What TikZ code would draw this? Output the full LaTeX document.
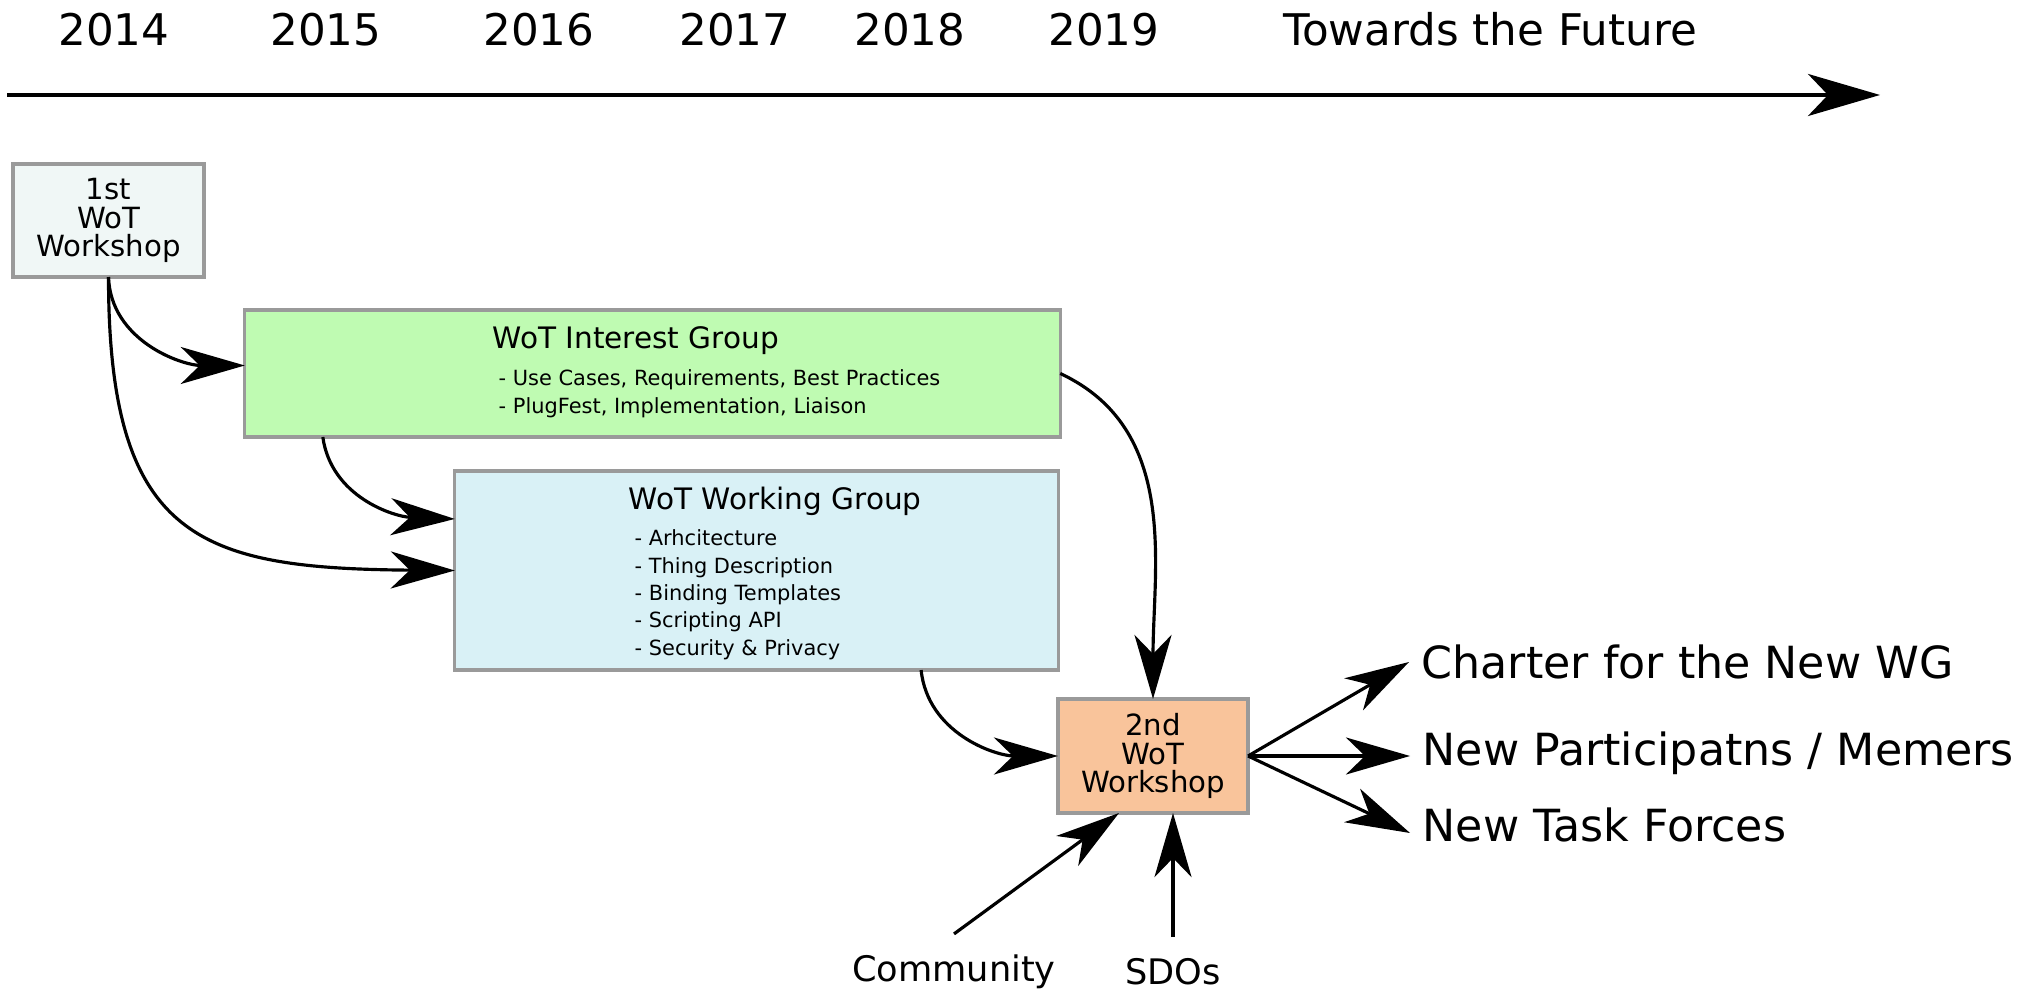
\documentclass[tikz,border=0pt]{standalone}
\usepackage{fontspec}
\setmainfont{DejaVu Sans}
\usetikzlibrary{arrows.meta}
\definecolor{wsonefill}{RGB}{240,247,246}
\definecolor{igfill}{RGB}{191,251,178}
\definecolor{wgfill}{RGB}{217,241,246}
\definecolor{wstwofill}{RGB}{249,196,155}
\definecolor{boxline}{RGB}{154,154,154}
\tikzstyle{box} = [rectangle, draw=boxline, line width=0.9pt,
                   inner sep=0pt, outer sep=0pt]
\tikzstyle{workshop} = [box, align=center,
                        font=\fontsize{8.3}{8.2}\selectfont]
\tikzstyle{title} = [anchor=west, inner sep=0pt,
                     font=\fontsize{8.4}{10}\selectfont]
\tikzstyle{items} = [anchor=north west, inner sep=0pt, align=left,
                     font=\fontsize{5.95}{7.8}\selectfont]
\tikzstyle{year} = [inner sep=0pt, text depth=0pt,
                    font=\fontsize{12.4}{14}\selectfont]
\tikzstyle{result} = [anchor=west, inner xsep=0.12cm, inner ysep=0pt,
                      text depth=0pt, font=\fontsize{12.6}{15}\selectfont]
\tikzstyle{source} = [inner xsep=0pt, inner ysep=0.2cm, text depth=0pt,
                      font=\fontsize{10}{12}\selectfont]
\tikzstyle{arrow} = [line width=0.9pt,
                     -{Stealth[length=0.64cm, width=0.37cm, inset=0.19cm]}]
\tikzstyle{timeline} = [line width=1.1pt,
                        -{Stealth[length=0.72cm, width=0.42cm, inset=0.2cm]}]

\begin{document}
\begin{tikzpicture}[x=0.01cm, y=-0.01cm]
        \useasboundingbox (0,0) rectangle (2040,989);

        % years
        \node (Year2014) [year] at (114,29) {2014};
        \node (Year2015) [year] at (326,29) {2015};
        \node (Year2016) [year] at (539,29) {2016};
        \node (Year2017) [year] at (735,29) {2017};
        \node (Year2018) [year] at (910,29) {2018};
        \node (Year2019) [year] at (1104,29) {2019};
        \node (Future) [year] at (1490,29) {Towards the Future};

        \coordinate (TimeStart) at (7,95);
        \coordinate (TimeEnd) at (1880,95);
        \draw [timeline] (TimeStart) -- (TimeEnd);

        % boxes
        \node (Workshop1) [workshop, fill=wsonefill, minimum width=1.91cm,
              minimum height=1.13cm] at (108.5,220.5) {1st\\WoT\\Workshop};

        \node (InterestGroup) [box, fill=igfill, minimum width=8.15cm,
              minimum height=1.27cm] at (652.5,373.5) {};
        \node (IGTitle) [title] at (492,341) {WoT Interest Group};
        \node (IGItems) [items] at (498,369)
              {- Use Cases, Requirements, Best Practices\\
               - PlugFest, Implementation, Liaison};

        \node (WorkingGroup) [box, fill=wgfill, minimum width=6.03cm,
              minimum height=1.99cm] at (756.5,570.5) {};
        \node (WGTitle) [title] at (628,501) {WoT Working Group};
        \node (WGItems) [items] at (634,529)
              {- Arhcitecture\\
               - Thing Description\\
               - Binding Templates\\
               - Scripting API\\
               - Security \& Privacy};

        \node (Workshop2) [workshop, fill=wstwofill, minimum width=1.90cm,
              minimum height=1.14cm] at (1153,756) {2nd\\WoT\\Workshop};

        % outcomes and inputs
        \node (Charter) [result] at (1409,662) {Charter for the New WG};
        \node (Members) [result] at (1410,749) {New Participatns / Memers};
        \node (TaskForces) [result] at (1410,825) {New Task Forces};

        \node (Community) [source] at (954,968) {Community};
        \node (SDOs) [source] at (1173,971) {SDOs};

        % connections
        \draw [arrow] (Workshop1.south)
              to[out=-88, in=180] ([yshift=0.08cm]InterestGroup.west);
        \draw [arrow] (Workshop1.south)
              .. controls +(0,263) and +(-255,-2) .. (WorkingGroup.west);
        \draw [arrow] ([xshift=0.78cm]InterestGroup.south west)
              to[out=-82, in=178] ([yshift=-0.48cm]WorkingGroup.north west);
        \draw [arrow] (InterestGroup.east) to[out=-25, in=90] (Workshop2.north);
        \draw [arrow] ([xshift=-1.37cm]WorkingGroup.south east)
              to[out=-84, in=180] (Workshop2.west);

        \draw [arrow] (Workshop2.east) -- (Charter.west);
        \draw [arrow] (Workshop2.east) -- (Workshop2.east -| Members.west);
        \draw [arrow] (Workshop2.east) -- ([yshift=-0.08cm]TaskForces.west);

        \draw [arrow] (Community.north) -- ([xshift=0.61cm]Workshop2.south west);
        \draw [arrow] (SDOs.north) -- (SDOs.north |- Workshop2.south);

    \end{tikzpicture}
\end{document}
